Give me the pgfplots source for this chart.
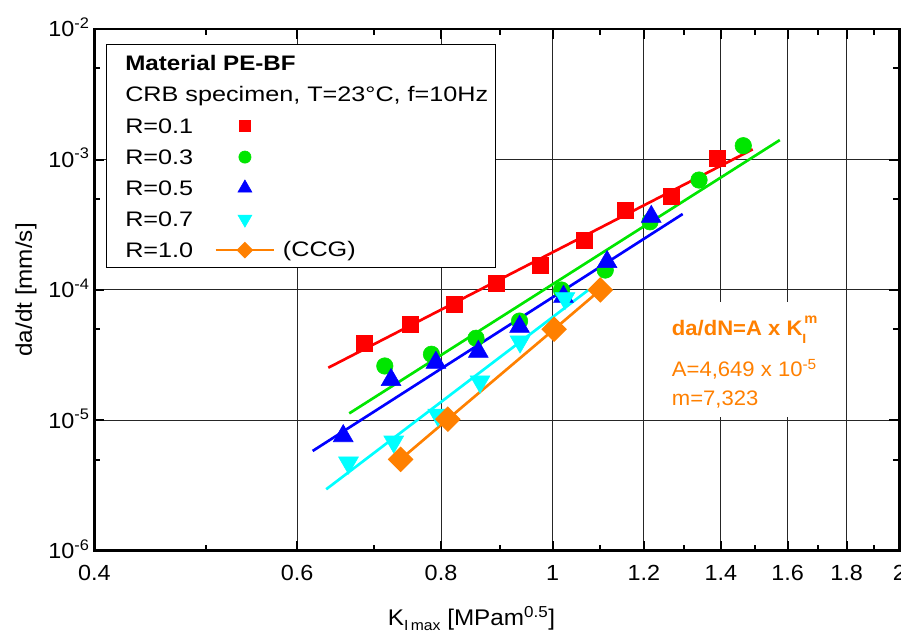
\documentclass[border=0pt]{standalone}
\usepackage{fontspec}
\setmainfont{Liberation Sans}[FakeStretch=1.15]
\newfontfamily\tickfont{Liberation Sans}[FakeStretch=1.07]
\newfontfamily\legreg{Liberation Sans}[FakeStretch=1.2]
\newfontfamily\annfont{Liberation Sans}[FakeStretch=1.05]
\usepackage{pgfplots}
\pgfplotsset{compat=1.18}
\usetikzlibrary{calc}

\definecolor{cRed}{RGB}{255,0,0}
\definecolor{cGreen}{RGB}{0,230,0}
\definecolor{cBlue}{RGB}{0,0,255}
\definecolor{cCyan}{RGB}{0,255,255}
\definecolor{cOrange}{RGB}{255,128,0}

\newcommand{\legfont}{\legreg\fontsize{15.75}{18}\selectfont}
\newcommand{\hdrfont}{\fontsize{15.75}{18}\selectfont}
\newcommand{\annsize}{\annfont\fontsize{15.75}{18}\selectfont}

\pgfplotsset{
  legMark/.style={legend image code/.code={\draw[##1,mark size=#1] plot coordinates {(0pt,0pt)};}},
  legOrange/.style={legend image code/.code={%
    \draw[##1,mark size=3.45pt,mark repeat=2,mark phase=2] plot coordinates {(-22pt,0pt) (0pt,0pt) (22pt,0pt)};
    \node[anchor=base west, inner sep=0pt, text width={}, text height={}, text depth={}, text=black] at (27.5pt,-5pt) {(CCG)};}},
}

\begin{document}
\begin{tikzpicture}
\begin{axis}[
  name=ax,
  scale only axis,
  width=603.75pt, height=391.2pt,
  xmode=log, ymode=log,
  xmin=0.4, xmax=2, ymin=1e-6, ymax=1e-2,
  xtick={0.4,0.6,0.8,1,1.2,1.4,1.6,1.8,2},
  xticklabels={0.4,0.6,0.8,1,1.2,1.4,1.6,1.8,2},
  minor xtick={0.5,0.7,0.9,1.1,1.3,1.5,1.7,1.9},
  ytick={1e-6,1e-5,1e-4,1e-3,1e-2},
  yticklabels={10\textsuperscript{-6},10\textsuperscript{-5},10\textsuperscript{-4},10\textsuperscript{-3},10\textsuperscript{-2}},
  minor ytick={5e-6,5e-5,5e-4,5e-3},
  xmajorgrids, ymajorgrids,
  major grid style={line width=0.75pt, black!85},
  tick align=inside,
  major tick length=7.5pt, minor tick length=4.5pt,
  tick style={line width=1.5pt, black},
  axis line style={line width=2pt},
  tick label style={font=\tickfont\fontsize{16.4}{16.4}\selectfont},
  xticklabel style={anchor=base, yshift=-22.5pt},
  yticklabel style={anchor=base east, yshift=-5.8pt},
  xlabel={K\raisebox{-0.22em}{\fontsize{11}{11}\selectfont I\,max} [MPam\textsuperscript{0.5}]},
  ylabel={da/dt [mm/s]},
  label style={font=\tickfont\fontsize{17}{17}\selectfont},
  xlabel style={at={(axis description cs:0.4686,0)}, anchor=base, yshift=-56pt},
  ylabel style={at={(axis description cs:-0.0774,0.5)}, anchor=base},
  legend plot pos=right,
  legend cell align=left,
  legend style={at={(axis description cs:0.03814,0.8443)}, anchor=north west,
    draw=none, fill=none, inner sep=0pt, row sep=0pt, column sep=14.25pt,
    font=\legfont,
    nodes={inner sep=0pt, text width=52.5pt, text height=17.25pt, text depth=6pt}},
]
% R = 0.1
\addplot[cRed, only marks, mark=square*, mark size=6pt, mark options={draw=none, fill=cRed}, legMark=4.1pt]
  coordinates {(0.686,3.92e-5) (0.753,5.48e-5) (0.821,7.80e-5) (0.894,1.13e-4) (0.976,1.55e-4)
               (1.065,2.41e-4) (1.156,4.05e-4) (1.267,5.19e-4) (1.390,1.014e-3)};
\addlegendentry{R=0.1}
\addplot[cRed, line width=2pt, forget plot] coordinates {(0.6386,2.53e-5) (1.492,1.197e-3)};
% R = 0.3
\addplot[cGreen, only marks, mark=*, mark size=6.2pt, mark options={draw=none, fill=cGreen}, legMark=4.6pt]
  coordinates {(0.715,2.61e-5) (0.785,3.21e-5) (0.858,4.26e-5) (0.936,5.77e-5) (1.018,9.98e-5)
               (1.111,1.42e-4) (1.215,3.33e-4) (1.340,6.96e-4) (1.464,1.276e-3)};
\addlegendentry{R=0.3}
\addplot[cGreen, line width=2pt, forget plot] coordinates {(0.666,1.13e-5) (1.575,1.41e-3)};
% R = 0.5
\addplot[cBlue, only marks, mark=triangle*, mark size=8.6pt, mark options={draw=none, fill=cBlue}, legMark=6.1pt]
  coordinates {(0.658,7.58e-6) (0.724,2.04e-5) (0.792,2.77e-5) (0.862,3.36e-5) (0.936,5.22e-5)
               (1.022,8.87e-5) (1.115,1.64e-4) (1.218,3.64e-4)};
\addlegendentry{R=0.5}
\addplot[cBlue, line width=2pt, forget plot] coordinates {(0.619,5.82e-6) (1.297,3.82e-4)};
% R = 0.7
\addplot[cCyan, only marks, mark=triangle*, mark size=8.6pt, mark options={draw=none, fill=cCyan, rotate=180}, legMark=6.1pt]
  coordinates {(0.665,4.73e-6) (0.728,6.85e-6) (0.795,1.10e-5) (0.865,1.98e-5) (0.937,4.01e-5) (1.025,8.62e-5)};
\addlegendentry{R=0.7}
\addplot[cCyan, line width=2pt, forget plot] coordinates {(0.636,2.96e-6) (1.074,9.98e-5)};
% R = 1.0 (CCG)
\addplot[cOrange, line width=2pt, mark=square*, mark size=5.8pt, mark options={draw=none, fill=cOrange, rotate=45}, legOrange]
  coordinates {(0.738,5.02e-6) (0.811,1.02e-5) (1.003,4.99e-5) (1.100,1.0e-4)};
\addlegendentry{R=1.0}

% legend frame and header
\fill[white, draw=black, line width=0.75pt] (rel axis cs:0.0154,0.5426) rectangle (rel axis cs:0.4990,0.9714);
\node[anchor=base west, inner sep=0pt, font=\hdrfont\bfseries] at (rel axis cs:0.03814,0.9216) {Material PE-BF};
\node[anchor=base west, inner sep=0pt, font=\legfont] at (rel axis cs:0.03814,0.8608) {CRB specimen, T=23°C, f=10Hz};
% annotation
\fill[white] (rel axis cs:0.6965,0.2563) rectangle (rel axis cs:0.9201,0.4768);
\node[anchor=base west, inner sep=0pt, font=\annsize\bfseries, text=cOrange] at (rel axis cs:0.7173,0.4135)
  {da/dN=A x K\rlap{\raisebox{-0.4em}{\fontsize{10}{10}\selectfont I}}\raisebox{0.55em}{\fontsize{10.5}{10.5}\selectfont\kern1.5pt m}};
\node[anchor=base west, inner sep=0pt, font=\annsize, text=cOrange] at (rel axis cs:0.7173,0.3336) {A=4,649 x 10\textsuperscript{-5}};
\node[anchor=base west, inner sep=0pt, font=\annsize, text=cOrange] at (rel axis cs:0.7173,0.2793) {m=7,323};
\end{axis}
\pgfresetboundingbox
\useasboundingbox ($(ax.south west)+(-70.725pt,-61.725pt)$) rectangle ($(ax.north east)+(1.275pt,21.825pt)$);
\end{tikzpicture}
\end{document}
